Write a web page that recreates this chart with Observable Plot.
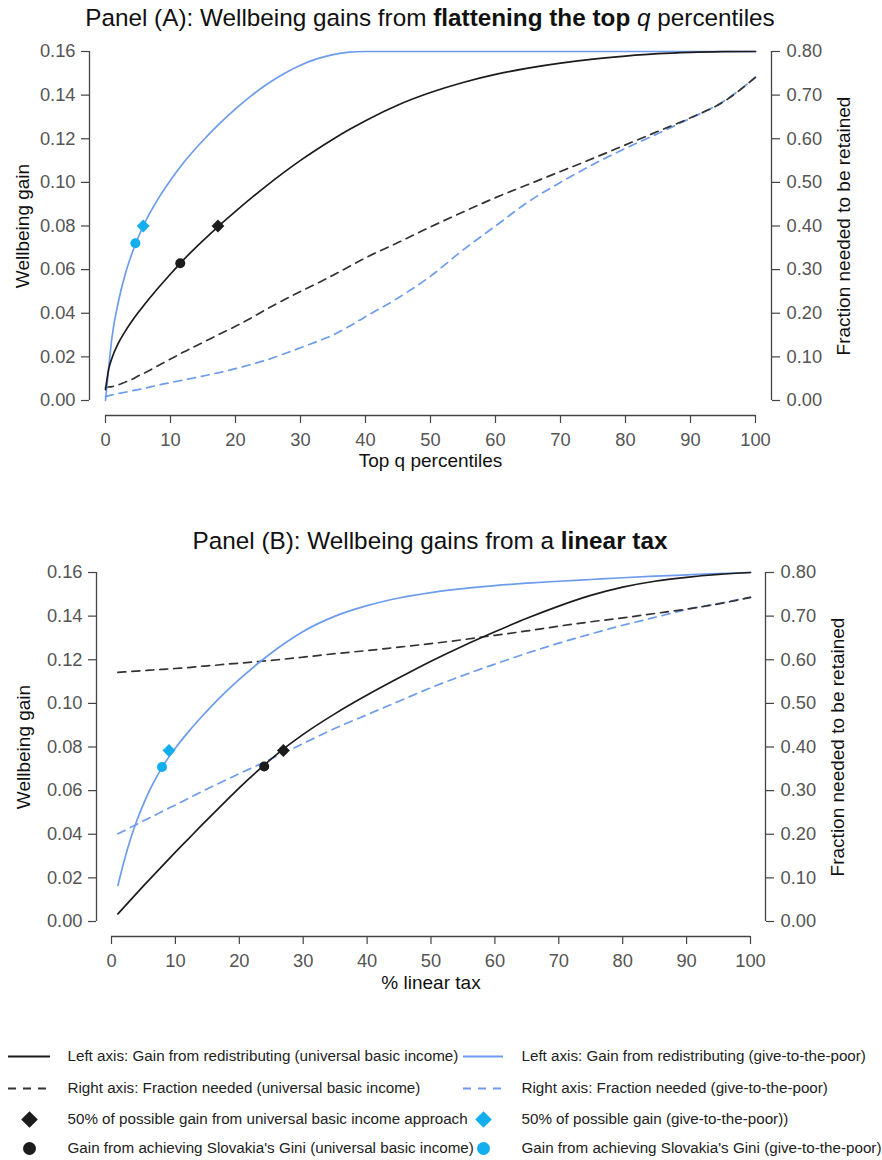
<!DOCTYPE html>
<html>
<head>
<meta charset="utf-8">
<script src="https://cdn.jsdelivr.net/npm/d3@7"></script>
<script src="https://cdn.jsdelivr.net/npm/@observablehq/plot@0.6"></script>
<style>
  body { margin: 0; background: #fff; font-family: "Liberation Sans", Arial, Helvetica, sans-serif; }
  #wrap { width: 882px; position: relative; }
  .title { width: 860px; text-align: center; font-size: 24.3px; color: #111; box-sizing: border-box; white-space: nowrap; }
  svg { display: block; }
</style>
</head>
<body>
<div id="wrap">
  <div class="title" style="height:36px;line-height:36px;">Panel (A): Wellbeing gains from <b>flattening the top</b> <i>q</i> percentiles</div>
  <div id="pA"></div>
  <div class="title" style="height:69px;padding-top:33px;line-height:36px;">Panel (B): Wellbeing gains from a <b>linear tax</b></div>
  <div id="pB"></div>
  <div id="leg"></div>
</div>
<script>
// ---------------- DATA ----------------
// Panel A: x = top q percentiles
const qA = [0,0.5,1,2,3,4,5,6,8,10,12,15,17.5,20,22.5,25,27.5,30,32.5,35,37.5,40,45,50,55,60,65,70,75,80,85,90,95,100];
const ubiGainA = [0.005,0.0145,0.0195,0.0264,0.0316,0.0361,0.0402,0.0440,0.0512,0.0580,0.0645,0.0733,0.0802,0.0867,0.0930,0.0990,0.1047,0.1101,0.1151,0.1198,0.1242,0.1283,0.1355,0.1412,0.1458,0.1495,0.1524,0.1547,0.1565,0.1579,0.1590,0.1596,0.1599,0.1600];
const gtpGainA = [0,0.0153,0.029,0.0455,0.0575,0.0668,0.0745,0.0812,0.0920,0.1010,0.1090,0.1192,0.1268,0.1337,0.1399,0.1453,0.1499,0.1537,0.1566,0.1586,0.1597,0.160,0.160,0.160,0.160,0.160,0.160,0.160,0.160,0.160,0.160,0.160,0.160,0.160];
const ubiFracA = [0.030,0.031,0.032,0.036,0.042,0.048,0.056,0.063,0.079,0.095,0.111,0.133,0.152,0.170,0.190,0.211,0.231,0.250,0.268,0.287,0.307,0.327,0.362,0.398,0.432,0.465,0.495,0.525,0.555,0.586,0.617,0.648,0.684,0.741];
const gtpFracA = [0.009,0.011,0.013,0.016,0.019,0.022,0.025,0.028,0.035,0.041,0.047,0.056,0.064,0.073,0.083,0.094,0.107,0.121,0.135,0.150,0.170,0.192,0.235,0.285,0.345,0.400,0.455,0.500,0.541,0.578,0.612,0.647,0.685,0.741];
// markers A: [universal basic income, give-to-the-poor]
const halfGainAx = [17.3, 5.8], halfGainAy = [0.0800, 0.0800];
const giniAx = [11.5, 4.6], giniAy = [0.0629, 0.0721];

// Panel B: x = % linear tax
const tB = [1,2,3,4,5,6,7,8,9,10,12,14,16,18,20,23,26,30,35,40,45,50,55,60,65,70,75,80,85,90,95,100];
const ubiGainB = [0.0035,0.0067,0.0099,0.0131,0.0163,0.0194,0.0225,0.0256,0.0287,0.0318,0.0378,0.0438,0.0497,0.0555,0.0613,0.0694,0.0770,0.0858,0.0953,0.1038,0.1117,0.1193,0.1263,0.1328,0.1390,0.1446,0.1495,0.1533,0.1560,0.1578,0.1591,0.1600];
const gtpGainB = [0.0165,0.0280,0.0380,0.0465,0.0538,0.0603,0.0660,0.0710,0.0755,0.0795,0.0868,0.0935,0.0998,0.1056,0.1110,0.1185,0.1253,0.1330,0.1400,0.1448,0.1483,0.1508,0.1526,0.1540,0.1551,0.1560,0.1568,0.1576,0.1583,0.1589,0.1595,0.1600];
const ubiFracB = [0.571,0.572,0.573,0.574,0.575,0.576,0.577,0.578,0.579,0.580,0.582,0.585,0.587,0.590,0.592,0.596,0.600,0.606,0.614,0.621,0.629,0.637,0.646,0.656,0.666,0.677,0.687,0.696,0.706,0.716,0.728,0.743];
const gtpFracB = [0.201,0.208,0.216,0.223,0.231,0.238,0.245,0.253,0.260,0.267,0.282,0.297,0.311,0.325,0.339,0.359,0.380,0.408,0.443,0.474,0.505,0.536,0.564,0.590,0.615,0.638,0.659,0.679,0.697,0.715,0.729,0.743];
const halfGainBx = [26.9, 9.0], halfGainBy = [0.0784, 0.0784];
const giniBx = [23.9, 7.9], giniBy = [0.0711, 0.0708];

// tick values
const xTicks = [0,10,20,30,40,50,60,70,80,90,100];
const yTicks = [0,0.02,0.04,0.06,0.08,0.10,0.12,0.14,0.16];

// labels
const leftAxisTitle = "Wellbeing gain";
const rightAxisTitle = "Fraction needed to be retained";
const xTitleA = "Top q percentiles";
const xTitleB = "% linear tax";
const legendLeft = [
  "Left axis: Gain from redistributing (universal basic income)",
  "Right axis: Fraction needed (universal basic income)",
  "50% of possible gain from universal basic income approach",
  "Gain from achieving Slovakia's Gini (universal basic income)"
];
const legendRight = [
  "Left axis: Gain from redistributing (give-to-the-poor)",
  "Right axis: Fraction needed (give-to-the-poor)",
  "50% of possible gain (give-to-the-poor))",
  "Gain from achieving Slovakia's Gini (give-to-the-poor)"
];

// ---------------- STYLE ----------------
const FONT = "'Liberation Sans', Arial, Helvetica, sans-serif";
const C_UBI = "#1c1c1c", C_UBI_DASH = "#333333", C_GTP = "#6d9ced", C_CYAN = "#12aeee";
const AXIS_STROKE = "#444", TICK_TEXT = "#555";
const markerColors = [C_UBI, C_CYAN];

function panel(o) {
  const pxY = 349 / 0.16;
  const ylo = -15 / pxY;
  const xlo = -o.off / o.pxX, xhi = 100 + o.off / o.pxX;
  const rows = o.xs.map((x, i) => ({x, ug: o.ug[i], gg: o.gg[i], uf: o.uf[i] / 5, gf: o.gf[i] / 5}));
  const half = o.hx.map((x, i) => ({x, y: o.hy[i], c: markerColors[i]}));
  const gini = o.gx.map((x, i) => ({x, y: o.gy[i], c: markerColors[i]}));
  const axisOpts = {ticks: yTicks, tickSize: 8, tickPadding: 6, fontSize: 18.3, color: TICK_TEXT, stroke: AXIS_STROKE, strokeWidth: 1.2, label: null};
  return Plot.plot({
    width: 882, height: o.height,
    marginTop: o.mt, marginBottom: o.mb, marginLeft: o.ml, marginRight: o.mr,
    x: {domain: [xlo, xhi]},
    y: {domain: [ylo, 0.16]},
    style: {fontFamily: FONT, fontSize: "18px", color: TICK_TEXT, background: "transparent", overflow: "visible"},
    marks: [
      Plot.ruleX([xlo], {y1: 0, y2: 0.16, stroke: AXIS_STROKE, strokeWidth: 1.3}),
      Plot.ruleX([xhi], {y1: 0, y2: 0.16, stroke: AXIS_STROKE, strokeWidth: 1.3}),
      Plot.ruleY([ylo], {x1: 0, x2: 100, stroke: AXIS_STROKE, strokeWidth: 1.3}),
      Plot.axisY({...axisOpts, anchor: "left", tickFormat: d => d.toFixed(2)}),
      Plot.axisY({...axisOpts, anchor: "right", tickPadding: 7, tickFormat: d => (d * 5).toFixed(2)}),
      Plot.axisX({ticks: xTicks, tickSize: 8, tickPadding: 9, fontSize: 18.3, color: TICK_TEXT, stroke: AXIS_STROKE, strokeWidth: 1.2, label: null, anchor: "bottom", tickFormat: d => String(d)}),
      Plot.line(rows, {x: "x", y: "gf", stroke: C_GTP, strokeWidth: 1.7, strokeDasharray: "8,6", curve: "monotone-x"}),
      Plot.line(rows, {x: "x", y: "uf", stroke: C_UBI_DASH, strokeWidth: 1.7, strokeDasharray: "8,6", curve: "monotone-x"}),
      Plot.line(rows, {x: "x", y: "gg", stroke: C_GTP, strokeWidth: 1.7, curve: "monotone-x"}),
      Plot.line(rows, {x: "x", y: "ug", stroke: C_UBI, strokeWidth: 1.7, curve: "monotone-x"}),
      Plot.dot(gini, {x: "x", y: "y", fill: "c", r: 5, symbol: "circle"}),
      Plot.dot(half, {x: "x", y: "y", fill: "c", r: 5.8, symbol: "diamond2"}),
      Plot.text([leftAxisTitle], {x: xlo, y: 0.08, dx: o.ldx, rotate: -90, fontSize: 19, fill: "#111"}),
      Plot.text([rightAxisTitle], {x: xhi, y: 0.08, dx: o.rdx, rotate: -90, fontSize: 19, fill: "#111"}),
      Plot.text([o.xTitle], {x: 50, y: ylo, dy: o.xdy, fontSize: 19, fill: "#111"})
    ]
  });
}

document.getElementById("pA").append(panel({
  xs: qA, ug: ubiGainA, gg: gtpGainA, uf: ubiFracA, gf: gtpFracA,
  hx: halfGainAx, hy: halfGainAy, gx: giniAx, gy: giniAy,
  height: 454, mt: 15, mb: 75, ml: 89, mr: 111, off: 16, pxX: 6.5,
  ldx: -67, rdx: 72, xdy: 45, xTitle: xTitleA
}));

document.getElementById("pB").append(panel({
  xs: tB, ug: ubiGainB, gg: gtpGainB, uf: ubiFracB, gf: gtpFracB,
  hx: halfGainBx, hy: halfGainBy, gx: giniBx, gy: giniBy,
  height: 447, mt: 13, mb: 70, ml: 96, mr: 117, off: 15, pxX: 6.39,
  ldx: -73, rdx: 72, xdy: 46, xTitle: xTitleB
}));

// ---------------- LEGEND ----------------
const rowY = [50, 82, 113, 142];
const colSym = [[8, 50], [463, 503]];
const colText = [67, 521];
const legTexts = [
  ...legendLeft.map((t, i) => ({t, x: colText[0], y: rowY[i]})),
  ...legendRight.map((t, i) => ({t, x: colText[1], y: rowY[i]}))
];
const legLine = (col, row) => [{x1: colSym[col][0], x2: colSym[col][1], y: rowY[row]}];
const legDot = (col, row) => [{x: (colSym[col][0] + colSym[col][1]) / 2, y: rowY[row]}];

document.getElementById("leg").append(Plot.plot({
  width: 882, height: 154, margin: 0,
  x: {domain: [0, 882], range: [0, 882], axis: null},
  y: {domain: [0, 154], range: [0, 154], axis: null},
  style: {fontFamily: FONT, fontSize: "15px", color: "#222", background: "transparent", overflow: "visible"},
  marks: [
    Plot.ruleY(legLine(0, 0), {x1: "x1", x2: "x2", y: "y", stroke: C_UBI, strokeWidth: 1.8}),
    Plot.ruleY(legLine(1, 0), {x1: "x1", x2: "x2", y: "y", stroke: C_GTP, strokeWidth: 1.8}),
    Plot.ruleY(legLine(0, 1), {x1: "x1", x2: "x2", y: "y", stroke: C_UBI_DASH, strokeWidth: 1.8, strokeDasharray: "8,7"}),
    Plot.ruleY(legLine(1, 1), {x1: "x1", x2: "x2", y: "y", stroke: C_GTP, strokeWidth: 1.8, strokeDasharray: "8,7"}),
    Plot.dot(legDot(0, 2), {x: "x", y: "y", r: 7.5, symbol: "diamond2", fill: C_UBI}),
    Plot.dot(legDot(1, 2), {x: "x", y: "y", r: 7.5, symbol: "diamond2", fill: C_CYAN}),
    Plot.dot(legDot(0, 3), {x: "x", y: "y", r: 6.5, symbol: "circle", fill: C_UBI}),
    Plot.dot(legDot(1, 3), {x: "x", y: "y", r: 6.5, symbol: "circle", fill: C_CYAN}),
    Plot.text(legTexts, {x: "x", y: "y", text: "t", textAnchor: "start", fontSize: 15.2, fill: "#222"})
  ]
}));
</script>
</body>
</html>
